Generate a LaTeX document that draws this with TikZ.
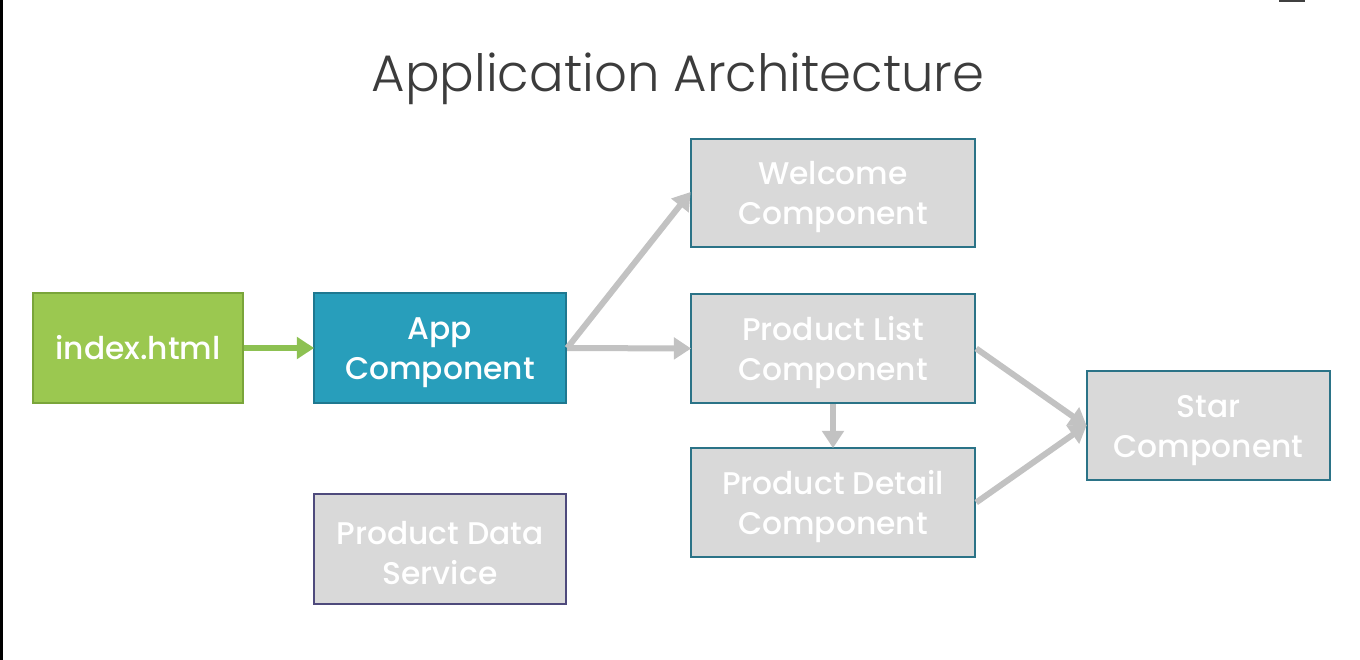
\documentclass[tikz,border=0pt]{standalone}
\usepackage{fontspec}
\setmainfont{Poppins}[BoldFont={Poppins Medium}]
\newfontfamily\titlefont{Poppins Light}
\usetikzlibrary{arrows.meta}
\definecolor{titlegray}{HTML}{3C3C3C}
\definecolor{greenfill}{HTML}{9BC850}
\definecolor{greenedge}{HTML}{7AA53A}
\definecolor{tealfill}{HTML}{289EBB}
\definecolor{tealedge}{HTML}{1F7890}
\definecolor{grayfill}{HTML}{D9D9D9}
\definecolor{grayedge}{HTML}{2B7387}
\definecolor{purpleedge}{HTML}{4E4A7C}
\definecolor{arrowgray}{HTML}{C2C2C2}
\definecolor{arrowgreen}{HTML}{8DC152}
\tikzset{
  box/.style={draw, line width=1.8pt, text=white, font=\bfseries\fontsize{23.5}{30}\selectfont,
    align=center, inner sep=0pt},
  % two-line labels sit a little low in their boxes: a tall strut raises the text box top
  twoline/.style={execute at begin node={\rule{0pt}{53.5pt}}},
  graybox/.style={box, twoline, fill=grayfill, draw=grayedge},
  link/.style={draw=arrowgray, line width=4.5pt,
    -{Triangle[length=13pt,width=16pt]}, shorten >=-1pt},
}
\begin{document}
\begin{tikzpicture}[x=0.75pt,y=-0.75pt]
  \useasboundingbox (0,0) rectangle (1360,660);
  % slide frame marks
  \fill[black] (0,0) rectangle (2.5,660);
  \fill[black!75] (1279,0) rectangle (1305,2.5);
  % title
  \node[text=titlegray] (title) at (678,79) {\titlefont\fontsize{38.5}{44}\selectfont Application Architecture};
  % component boxes
  \node[box, fill=greenfill, draw=greenedge, minimum width=157.5pt, minimum height=82.5pt]
    (index) at (138,348) {index.html};
  \node[box, twoline, fill=tealfill, draw=tealedge, minimum width=189pt, minimum height=82.5pt]
    (app) at (440,348) {App\\Component};
  \node[graybox, minimum width=213pt, minimum height=81pt]
    (welcome) at (833,193) {Welcome\\Component};
  \node[graybox, minimum width=213pt, minimum height=81.75pt]
    (plist) at (833,348.5) {Product List\\Component};
  \node[graybox, minimum width=213pt, minimum height=81.75pt]
    (pdetail) at (833,502.5) {Product Detail\\Component};
  \node[graybox, minimum width=182.25pt, minimum height=81.75pt]
    (star) at (1208.5,425.5) {Star\\Component};
  \node[box, twoline, fill=grayfill, draw=purpleedge, minimum width=189pt, minimum height=82.5pt]
    (pds) at (440,549) {Product Data\\Service};
  % connectors
  \draw[link, draw=arrowgreen] (index.east) -- (app.west);
  \draw[link] (app.east) -- (welcome.west);
  \draw[link] (app.east) -- (plist.west);
  \draw[link] (plist.south) -- (pdetail.north);
  \draw[link] (plist.east) -- (star.west);
  \draw[link] (pdetail.east) -- (star.west);
\end{tikzpicture}
\end{document}
